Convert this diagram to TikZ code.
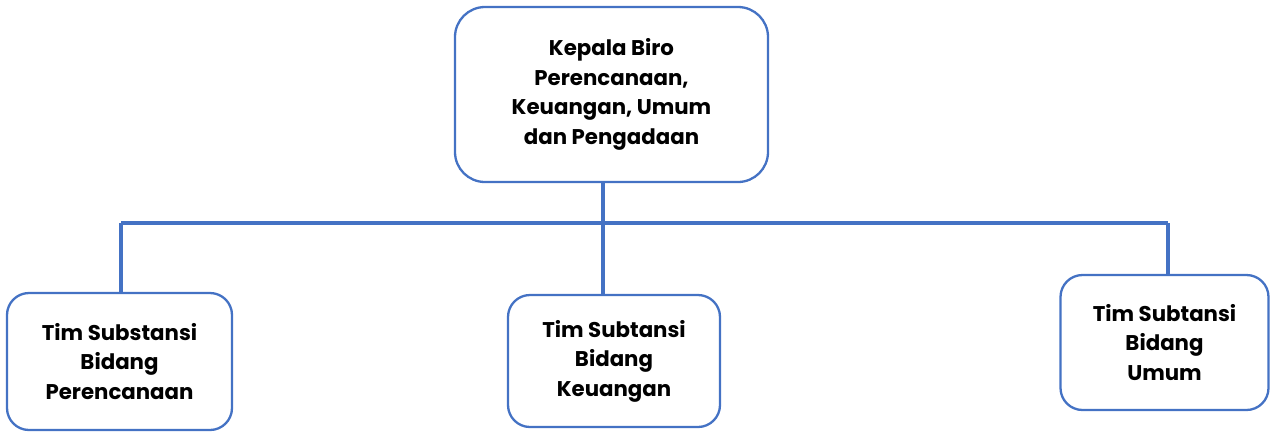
\documentclass[tikz,border=0pt]{standalone}
\usepackage{fontspec}
\setmainfont{Poppins}
\definecolor{blu}{HTML}{4472C4}
\begin{document}
\begin{tikzpicture}[x=1pt,y=-1pt,
  box/.style={draw=blu,line width=2.3pt,rounded corners=22pt,fill=white,align=center,
    font=\fontsize{21.3}{29.5}\selectfont\bfseries,inner sep=0pt},
  conn/.style={draw=blu,line width=3.2pt}]
\useasboundingbox (0,0) rectangle (1270,432);
\node[box,rounded corners=30pt,minimum width=313pt,minimum height=175pt] (top) at (611.5,94.5)
  {Kepala Biro\\Perencanaan,\\Keuangan, Umum\\dan Pengadaan};
\node[box,minimum width=225pt,minimum height=137pt] (left) at (119.5,361.5)
  {Tim Substansi\\Bidang\\Perencanaan};
\node[box,minimum width=212pt,minimum height=132pt] (mid) at (614,361)
  {Tim Subtansi\\Bidang\\Keuangan};
\node[box,minimum width=208pt,minimum height=135pt] (right) at (1164.5,342.5)
  {Tim Subtansi\\Bidang\\Umum};
\coordinate (busL) at (121,223);
\coordinate (busR) at (1168,223);
\coordinate (mv) at (603,223);
\draw[conn] (busL) -- (busR);
\draw[conn] (mv |- top.south) -- (mv |- mid.north);
\draw[conn] (busL) -- (busL |- left.north);
\draw[conn] (busR) -- (busR |- right.north);
\end{tikzpicture}
\end{document}
